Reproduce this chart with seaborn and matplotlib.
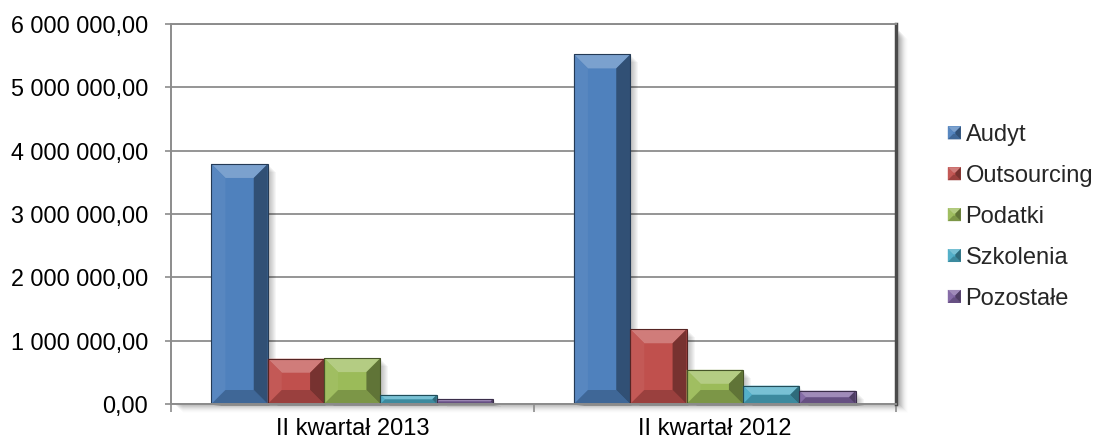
import numpy as np
import pandas as pd
import matplotlib
matplotlib.use("Agg")
import matplotlib.pyplot as plt
import seaborn as sns
from matplotlib.colors import to_rgb
from matplotlib.patches import Polygon, Rectangle, Patch
from matplotlib.legend_handler import HandlerBase
from matplotlib.ticker import FuncFormatter, MultipleLocator, FixedLocator

# Dane
kwartaly = ["II kwartał 2013", "II kwartał 2012"]
kategorie = ["Audyt", "Outsourcing", "Podatki", "Szkolenia", "Pozostałe"]
wartosci_2013 = [3790000, 715000, 725000, 145000, 80000]
wartosci_2012 = [5520000, 1180000, 540000, 290000, 210000]
kolory = ["#4F81BD", "#C0504D", "#9BBB59", "#4BACC6", "#8064A2"]

sns.set_theme(style="white")
plt.rcParams["font.family"] = ["Liberation Sans", "DejaVu Sans"]

GRAY = "#8C8C8C"


def mix(c, t, a):
    return tuple(np.array(to_rgb(c)) * (1 - a) + np.array(to_rgb(t)) * a)


def bevel_faces(x0, y0, x1, y1, d, color):
    # cztery fazy ramki (w pikselach, os y w gore)
    top = [(x0, y1), (x1, y1), (x1 - d, y1 - d), (x0 + d, y1 - d)]
    bottom = [(x0, y0), (x1, y0), (x1 - d, y0 + d), (x0 + d, y0 + d)]
    left = [(x0, y0), (x0, y1), (x0 + d, y1 - d), (x0 + d, y0 + d)]
    right = [(x1, y0), (x1, y1), (x1 - d, y1 - d), (x1 - d, y0 + d)]
    return [
        (top, mix(color, "white", 0.25)),
        (left, mix(color, "white", 0.05)),
        (bottom, mix(color, "black", 0.2)),
        (right, mix(color, "black", 0.38)),
    ]


class BevelHandler(HandlerBase):
    def create_artists(self, legend, orig_handle, xdescent, ydescent,
                       width, height, fontsize, trans):
        c = orig_handle.get_facecolor()
        s = min(width, height)
        x0 = -xdescent + (width - s) / 2
        y0 = -ydescent + (height - s) / 2
        arts = [Rectangle((x0, y0), s, s, facecolor=c, edgecolor="none",
                          transform=trans)]
        d = s * 0.42
        for pts, col in bevel_faces(x0, y0, x0 + s, y0 + s, d, c):
            arts.append(Polygon(pts, closed=True, facecolor=col,
                                edgecolor="none", transform=trans))
        return arts


def main():
    rows = []
    for kw, vals in zip(kwartaly, [wartosci_2013, wartosci_2012]):
        for kat, v in zip(kategorie, vals):
            rows.append({"kwartal": kw, "kategoria": kat, "wartosc": v})
    df = pd.DataFrame(rows)

    fig = plt.figure(figsize=(10.98, 4.44), dpi=100)
    ax = fig.add_axes([171 / 1098, 1 - 404 / 444, 725 / 1098, 380 / 444])

    sns.barplot(data=df, x="kwartal", y="wartosc", hue="kategoria",
                order=kwartaly, hue_order=kategorie, palette=kolory,
                width=0.777, gap=0, saturation=1, legend=False,
                edgecolor="none", linewidth=0, ax=ax, zorder=2)

    ax.set_xlim(-0.5, 1.5)
    ax.set_ylim(0, 6000000)
    ax.yaxis.set_major_locator(MultipleLocator(1000000))
    ax.yaxis.set_major_formatter(FuncFormatter(
        lambda v, p: f"{v:,.2f}".replace(",", " ").replace(".", ",")))
    ax.set_xlabel("")
    ax.set_ylabel("")

    ax.grid(axis="y", color=GRAY, linewidth=1.3)
    ax.set_axisbelow(True)
    for side in ["left", "bottom", "top"]:
        ax.spines[side].set_color(GRAY)
        ax.spines[side].set_linewidth(1.4)
    ax.spines["right"].set_color("#4A4A4A")
    ax.spines["right"].set_linewidth(2.5)

    ax.tick_params(axis="y", direction="out", length=4.3, width=1.2,
                   color=GRAY, pad=12, labelsize=16.8, labelcolor="black",
                   left=True)
    ax.xaxis.set_minor_locator(FixedLocator([-0.5, 0.5, 1.5]))
    ax.tick_params(axis="x", which="minor", direction="out", length=5.8,
                   width=1.2, color=GRAY, bottom=True)
    ax.tick_params(axis="x", which="major", length=0, pad=10,
                   labelsize=17, labelcolor="black")

    # cien pola wykresu
    for k in range(1, 10):
        a = 0.07 * (1 - k / 10)
        fig.patches.append(Rectangle(((171 + k + 3) / 1098, 1 - (404 + k) / 444),
                                     725 / 1098, 374 / 444,
                                     transform=fig.transFigure, facecolor="black",
                                     alpha=a, edgecolor="none", zorder=-1))

    # efekt fazy i cienia na slupkach
    inv = ax.transData.inverted()
    bars = list(ax.patches)
    for p in bars:
        h = p.get_height()
        if h <= 0:
            continue
        color = p.get_facecolor()
        (x0, y0), (x1, y1) = ax.transData.transform(
            [(p.get_x(), 0), (p.get_x() + p.get_width(), h)])
        for k in range(1, 9):
            sh = inv.transform([(x0 + k + 2, y0 - 2), (x1 + k, y1 - k)])
            ax.add_patch(Rectangle(tuple(sh[0]), sh[1][0] - sh[0][0],
                                   sh[1][1] - sh[0][1], facecolor="black",
                                   alpha=0.035, edgecolor="none", zorder=1.5,
                                   clip_on=False))
        d = min(14, (x1 - x0) / 2, (y1 - y0) / 2)
        for pts, col in bevel_faces(x0, y0, x1, y1, d, color):
            ax.add_patch(Polygon(inv.transform(pts), closed=True,
                                 facecolor=col, edgecolor="none", zorder=2.1))
        edge = inv.transform([(x0, y0), (x1, y1)])
        ax.add_patch(Rectangle(tuple(edge[0]), edge[1][0] - edge[0][0],
                               edge[1][1] - edge[0][1], facecolor="none",
                               edgecolor=mix(color, "black", 0.55),
                               linewidth=0.8, zorder=2.2))

    handles = [Patch(facecolor=c, label=k) for k, c in zip(kategorie, kolory)]
    fig.legend(handles=handles, loc="center left",
               bbox_to_anchor=(936 / 1098, 1 - 217 / 444), frameon=False,
               fontsize=17, handlelength=0.55, handleheight=0.55,
               handletextpad=0.2, labelspacing=0.8, borderpad=0,
               handler_map={Patch: BevelHandler()})

    fig.savefig("out.png", dpi=100, facecolor="white")
    plt.close(fig)


if __name__ == "__main__":
    main()
